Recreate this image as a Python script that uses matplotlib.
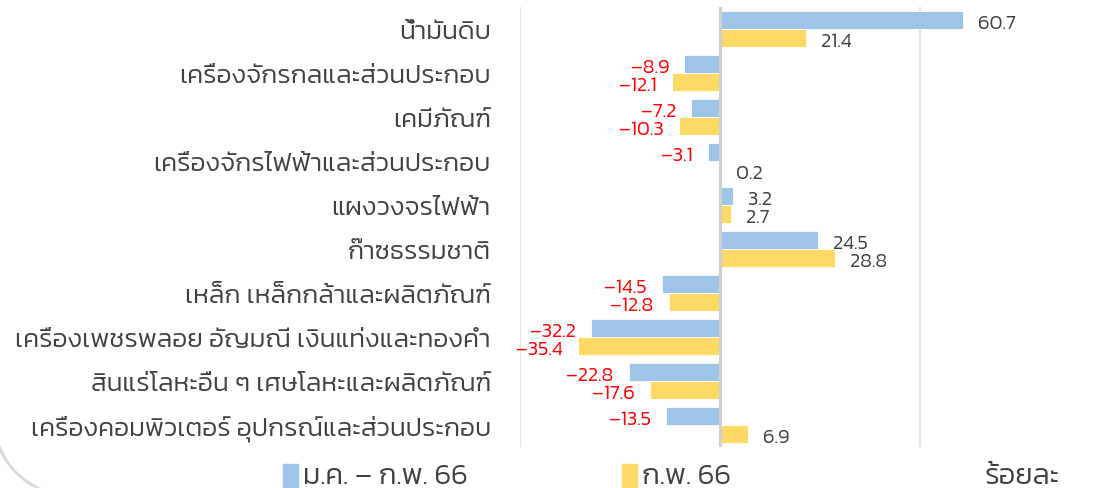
import matplotlib
matplotlib.use("Agg")
import matplotlib.pyplot as plt
from matplotlib import font_manager
from matplotlib.font_manager import FontProperties
from matplotlib.patches import Rectangle, Arc
import numpy as np

plt.rcParams['font.family'] = ['Kanit', 'DejaVu Sans']

# the chart uses a light cut of Kanit; pick the file directly
light_path = None
for p in font_manager.findSystemFonts():
    if p.endswith("Kanit-Light.ttf"):
        light_path = p
        break


def font(size):
    if light_path:
        return FontProperties(fname=light_path, size=size)
    return FontProperties(family=['Kanit', 'DejaVu Sans'], weight='light', size=size)


categories = [
    "น้ำมันดิบ",
    "เครื่องจักรกลและส่วนประกอบ",
    "เคมีภัณฑ์",
    "เครื่องจักรไฟฟ้าและส่วนประกอบ",
    "แผงวงจรไฟฟ้า",
    "ก๊าซธรรมชาติ",
    "เหล็ก เหล็กกล้าและผลิตภัณฑ์",
    "เครื่องเพชรพลอย อัญมณี เงินแท่งและทองคำ",
    "สินแร่โลหะอื่น ๆ เศษโลหะและผลิตภัณฑ์",
    "เครื่องคอมพิวเตอร์ อุปกรณ์และส่วนประกอบ",
]
jan_feb = [60.7, -8.9, -7.2, -3.1, 3.2, 24.5, -14.5, -32.2, -22.8, -13.5]
feb = [21.4, -12.1, -10.3, 0.2, 2.7, 28.8, -12.8, -35.4, -17.6, 6.9]
series_names = ["ม.ค. – ก.พ. 66", "ก.พ. 66"]
unit_label = "ร้อยละ"

blue = "#9DC3E6"
yellow = "#FFD966"
pos_col = "#404040"
neg_col = "#FF0000"

fig = plt.figure(figsize=(11.12, 4.89), dpi=100)
ax = fig.add_axes([520 / 1112, 41 / 489, 592 / 1112, 440 / 489])

y = np.arange(len(categories))
h = 0.4
ax.barh(y - h / 2, jan_feb, height=h, color=blue, edgecolor="white", linewidth=0.6, zorder=3)
ax.barh(y + h / 2, feb, height=h, color=yellow, edgecolor="white", linewidth=0.6, zorder=3)

for vals, off in [(jan_feb, -h / 2), (feb, h / 2)]:
    for yi, v in zip(y, vals):
        if v < 0:
            ax.annotate(f"{v:.1f}".replace("-", "\u2013"), (v, yi + off), xytext=(-11, -2),
                        textcoords="offset points", ha="right", va="center",
                        color=neg_col, fontproperties=font(14.5))
        else:
            ax.annotate(f"{v:.1f}", (v, yi + off), xytext=(11, -2),
                        textcoords="offset points", ha="left", va="center",
                        color=pos_col, fontproperties=font(14.5))

ax.set_xlim(-50, 98)
ax.set_ylim(len(categories) - 0.5, -0.5)
ax.set_yticks(y)
ax.set_yticklabels(categories, color="#404040")
for lab in ax.get_yticklabels():
    lab.set_fontproperties(font(19))
ax.tick_params(axis="y", length=0, pad=21)
ax.set_xticks([])
for s in ax.spines.values():
    s.set_visible(False)
for gx in [-50, 50, 100]:
    ax.axvline(gx, color="#E3E3E3", linewidth=1.5, zorder=1)
ax.axvline(0, color="#D0D0D0", linewidth=2.2, zorder=4)

# legend and unit label along the bottom
for x0, col, name in [(283, blue, series_names[0]), (622, yellow, series_names[1])]:
    fig.patches.append(Rectangle((x0 / 1112, 0), 15 / 1112, 24 / 489, transform=fig.transFigure,
                                 color=col, figure=fig))
    fig.text((x0 + 20) / 1112, 12 / 489, name, color="#404040", va="center",
             fontproperties=font(21))
fig.text(985 / 1112, 12 / 489, unit_label, color="#404040", va="center",
         fontproperties=font(21))

# rounded corner of the surrounding panel
fig.patches.append(Arc((70, 69), 152, 152, theta1=180, theta2=270, transform=None,
                       color="#D9D9D9", linewidth=2, figure=fig))

fig.savefig("out.png", dpi=100)
